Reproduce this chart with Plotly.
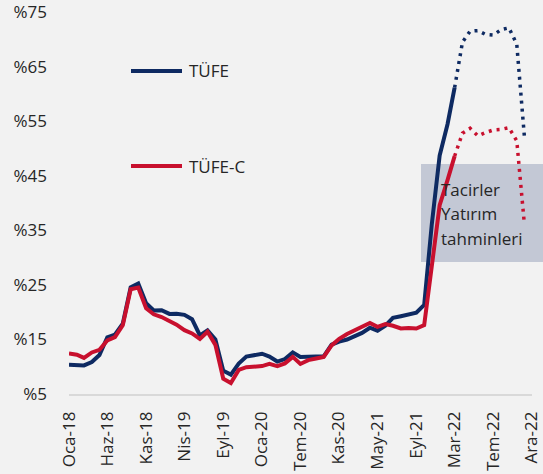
import pandas as pd
import plotly.graph_objects as go

# ---- data ----
months_actual = pd.date_range("2018-01-01", "2022-03-01", freq="MS")
tufe = [10.35, 10.26, 10.23, 10.85, 12.15, 15.39, 15.85, 17.90, 24.52, 25.24, 21.62, 20.30,
        20.35, 19.67, 19.71, 19.50, 18.71, 15.72, 16.65, 15.01, 9.26, 8.55, 10.56, 11.84,
        12.15, 12.37, 11.86, 10.94, 11.39, 12.62, 11.76, 11.77, 11.75, 11.89, 14.03, 14.60,
        14.97, 15.61, 16.19, 17.14, 16.59, 17.53, 18.95, 19.25, 19.58, 19.89, 21.31, 36.08,
        48.69, 54.44, 61.14]
tufe_c = [12.4, 12.2, 11.6, 12.6, 13.1, 14.8, 15.4, 17.6, 24.2, 24.5, 20.7, 19.6,
          19.1, 18.4, 17.7, 16.7, 16.1, 15.1, 16.4, 14.0, 7.8, 7.0, 9.4, 9.9,
          10.0, 10.1, 10.5, 10.1, 10.6, 11.8, 10.5, 11.2, 11.5, 11.8, 13.9, 15.1,
          16.0, 16.7, 17.3, 18.0, 17.3, 17.8, 17.5, 17.0, 17.1, 17.0, 17.6, 29.0,
          39.6, 44.2, 48.6]

months_fc = pd.date_range("2022-03-01", "2022-12-01", freq="MS")
tufe_fc = [61.14, 69.5, 71.5, 71.6, 70.9, 70.8, 71.8, 72.1, 69.1, 52.2]
tufe_c_fc = [48.6, 52.8, 53.7, 52.3, 52.9, 53.4, 53.5, 53.8, 51.4, 36.1]

tick_labels = ["Oca-18", "Haz-18", "Kas-18", "Nis-19", "Eyl-19", "Oca-20", "Tem-20",
               "Kas-20", "May-21", "Eyl-21", "Mar-22", "Tem-22", "Ara-22"]
tick_step_days = 152
y_ticks = [5, 15, 25, 35, 45, 55, 65, 75]

series_names = ["TÜFE", "TÜFE-C"]
box_lines = ["Tacirler", "Yatırım", "tahminleri"]

# ---- style ----
BLUE = "#0E2A62"
RED = "#C8102E"
BG = "#F2F2F2"
FONT = "Open Sans"
TXT = "#262626"

tick_vals = [pd.Timestamp("2018-01-01") + pd.Timedelta(days=tick_step_days * k)
             for k in range(len(tick_labels))]
y_text = ["%" + str(v) for v in y_ticks]

fig = go.Figure()
fig.add_trace(go.Scatter(x=months_actual, y=tufe, mode="lines",
                         line=dict(color=BLUE, width=4), showlegend=False, name=series_names[0]))
fig.add_trace(go.Scatter(x=months_actual, y=tufe_c, mode="lines",
                         line=dict(color=RED, width=4), showlegend=False, name=series_names[1]))
fig.add_trace(go.Scatter(x=months_fc, y=tufe_fc, mode="lines",
                         line=dict(color=BLUE, width=3.5, dash="3px,5px"), showlegend=False))
fig.add_trace(go.Scatter(x=months_fc, y=tufe_c_fc, mode="lines",
                         line=dict(color=RED, width=3.5, dash="3px,5px"), showlegend=False))

# plot area geometry (pixels)
L, R, T, B = 69, 11, 12, 80
W, H = 543, 474
pw, ph = W - L - R, H - T - B

def px(x):
    return (x - L) / pw

def py(y):
    return (H - B - y) / ph

shapes = [
    dict(type="rect", xref="paper", yref="paper", x0=px(421), x1=px(545), y0=py(262), y1=py(164),
         fillcolor="#C3C8D5", line=dict(width=0), layer="below"),
    dict(type="line", xref="paper", yref="paper", x0=px(131), x1=px(182), y0=py(71), y1=py(71),
         line=dict(color=BLUE, width=4)),
    dict(type="line", xref="paper", yref="paper", x0=px(131), x1=px(182), y0=py(166), y1=py(166),
         line=dict(color=RED, width=4)),
]

annotations = [
    dict(text=series_names[0], xref="paper", yref="paper", x=px(187), y=py(71),
         xanchor="left", yanchor="middle", showarrow=False, font=dict(size=17, color=TXT, family=FONT)),
    dict(text=series_names[1], xref="paper", yref="paper", x=px(187), y=py(166),
         xanchor="left", yanchor="middle", showarrow=False, font=dict(size=17, color=TXT, family=FONT)),
]
for i, t in enumerate(box_lines):
    annotations.append(dict(text=t, xref="paper", yref="paper", x=px(439), y=py(189 + 24.5 * i),
                            xanchor="left", yanchor="middle", showarrow=False,
                            font=dict(size=17, color=TXT, family=FONT)))

fig.update_layout(
    width=W, height=H,
    margin=dict(l=L, r=R, t=T, b=B, autoexpand=False),
    paper_bgcolor=BG, plot_bgcolor=BG,
    font=dict(family=FONT, size=17, color=TXT),
    shapes=shapes, annotations=annotations,
    xaxis=dict(type="date", range=["2018-01-01", "2022-12-31"], automargin=False,
               tickvals=tick_vals, ticktext=tick_labels, tickangle=-90,
               showgrid=False, zeroline=False, showline=True, linecolor="#D9D9D9", linewidth=1.5,
               ticks="", ticklabelstandoff=9, tickfont=dict(size=17, color=TXT)),
    yaxis=dict(range=[4.99, 75.01], tickvals=y_ticks, ticktext=y_text, automargin=False,
               showgrid=False, zeroline=False, showline=False, ticks="",
               ticklabelstandoff=21, tickfont=dict(size=17, color=TXT)),
)

fig.write_html(
    "out.html",
    config={"displayModeBar": False},
    post_script="document.body.style.margin='0';document.body.style.padding='0';"
                "document.body.style.overflow='hidden';document.body.style.background='#F2F2F2';",
)
